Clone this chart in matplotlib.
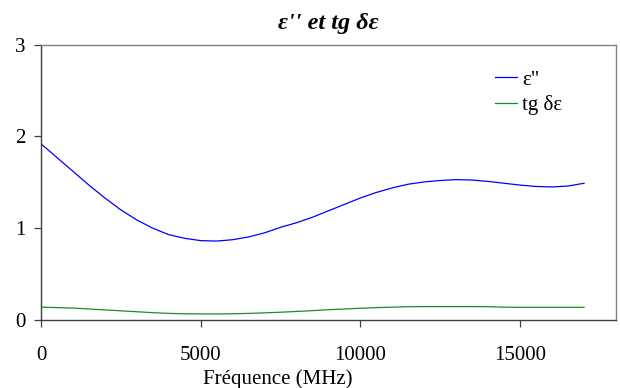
import matplotlib
matplotlib.use("Agg")
import matplotlib.pyplot as plt

# Frequency sweep (MHz) and measured loss quantities
freq = [0, 500, 1000, 1500, 2000, 2500, 3000, 3500, 4000, 4500, 5000, 5500, 6000,
        6500, 7000, 7500, 8000, 8500, 9000, 9500, 10000, 10500, 11000, 11500, 12000,
        12500, 13000, 13500, 14000, 14500, 15000, 15500, 16000, 16500, 17000]
eps_loss = [1.92, 1.77, 1.62, 1.47, 1.33, 1.20, 1.09, 1.00, 0.93, 0.89, 0.865, 0.86, 0.875,
            0.905, 0.95, 1.01, 1.06, 1.12, 1.19, 1.26, 1.33, 1.39, 1.44, 1.48, 1.505,
            1.52, 1.53, 1.525, 1.51, 1.49, 1.47, 1.455, 1.45, 1.46, 1.49]
tan_delta = [0.14, 0.135, 0.13, 0.12, 0.11, 0.10, 0.09, 0.08, 0.072, 0.068, 0.066, 0.066, 0.068,
             0.072, 0.078, 0.085, 0.093, 0.102, 0.112, 0.12, 0.128, 0.135, 0.14, 0.145, 0.146,
             0.146, 0.146, 0.146, 0.145, 0.14, 0.138, 0.138, 0.138, 0.138, 0.138]

x_ticks = [0, 5000, 10000, 15000]
y_ticks = [0, 1, 2, 3]

serif = ["Liberation Serif", "DejaVu Serif"]
plt.rcParams["font.family"] = serif

fig = plt.figure(figsize=(6.2, 3.88), dpi=100)
ax = fig.add_axes([41 / 620, 1 - 320 / 388, 575 / 620, (320 - 44.7) / 388])

ax.plot(freq, eps_loss, color="#0000ff", lw=0.9, label='ε"')
ax.plot(freq, tan_delta, color="#1e8c1e", lw=0.9, label="tg δε")

ax.set_xlim(0, 18000)
ax.set_ylim(0, 3)
ax.set_xticks(x_ticks)
ax.set_yticks(y_ticks)
ax.tick_params(axis="x", direction="out", length=5, width=0.9, color="#404040",
               labelsize=15, pad=14)
ax.tick_params(axis="y", direction="out", length=5, width=0.9, color="#404040",
               labelsize=15, pad=6)
for sp in ax.spines.values():
    sp.set_color("#808080")
    sp.set_linewidth(1.0)
ax.spines["left"].set_color("#404040")
ax.spines["bottom"].set_color("#404040")

fig.text(277.5 / 620, 1 - 384 / 388, "Fréquence (MHz)", fontsize=15,
         ha="center", va="baseline")
fig.text(328.5 / 620, 1 - 29 / 388, "ε'' et tg δε", fontsize=17.5,
         fontweight="bold", style="italic", ha="center", va="baseline")

leg = fig.legend(loc="upper left", bbox_to_anchor=(495 / 620, 1 - 70 / 388),
                 frameon=False, fontsize=15, handlelength=1.06, handletextpad=0.25,
                 labelspacing=0.25, borderpad=0, borderaxespad=0)

fig.savefig("out.png", dpi=100)
